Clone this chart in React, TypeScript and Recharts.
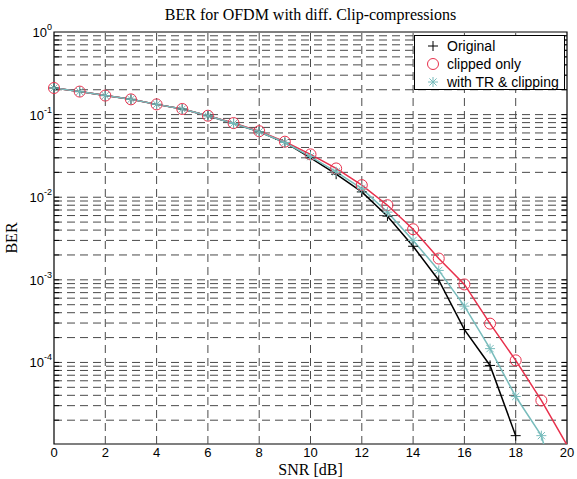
import { Legend, Line, LineChart, ReferenceArea, ReferenceLine, XAxis, YAxis } from "recharts";

// SNR in dB
const snr = [0, 1, 2, 3, 4, 5, 6, 7, 8, 9, 10, 11, 12, 13, 14, 15, 16, 17, 18, 19, 20];
const original = [0.21, 0.19, 0.17, 0.153, 0.133, 0.117, 0.097, 0.078, 0.062, 0.046, 0.03, 0.019, 0.0116, 0.0059, 0.00255, 0.00099, 0.00025, 0.000092, 0.000013];
const clippedOnly = [0.21, 0.19, 0.17, 0.153, 0.133, 0.117, 0.097, 0.079, 0.063, 0.047, 0.033, 0.0223, 0.014, 0.008, 0.0041, 0.00181, 0.00088, 0.000295, 0.000106, 0.0000347, 0.00001];
const withTrClipping = [0.21, 0.19, 0.17, 0.153, 0.133, 0.117, 0.097, 0.078, 0.062, 0.046, 0.031, 0.0203, 0.0127, 0.0066, 0.003, 0.0013, 0.00048, 0.000147, 0.0000387, 0.000013, 0.000001];
const xTicks = [0, 2, 4, 6, 8, 10, 12, 14, 16, 18, 20];
const yTicks = [0.0001, 0.001, 0.01, 0.1, 1];
const decades = [0.00001, 0.0001, 0.001, 0.01, 0.1];
const minorFactors = [1, 2, 3, 4, 5, 6, 7, 8, 9];
const yMin = 0.0000103;
const yMax = 1;

const BLACK = "#000000";
const RED = "#e8304c";
const TEAL = "#78bcbc";
const GRID = "#4a4a4a";

const data = snr.map((x, i) => ({
  snr: x,
  original: original[i] ?? null,
  clipped: clippedOnly[i] ?? null,
  tr: withTrClipping[i] ?? null
}));

const yGrid = decades
  .flatMap((d) => minorFactors.map((f) => +(d * f).toPrecision(3)))
  .filter((v) => v > yMin && v < yMax);
const xGrid = xTicks.filter((x) => x > 0 && x < 20);

function hidden(props: any) {
  return props.cx == null || props.cy == null || props.value == null || props.value < yMin;
}

function PlusDot(props: any) {
  const { cx, cy, index } = props;
  if (hidden(props)) return <g key={`p${index}`} />;
  return (
    <g key={`p${index}`} stroke={BLACK} strokeWidth={1}>
      <line x1={cx - 5} y1={cy} x2={cx + 5} y2={cy} />
      <line x1={cx} y1={cy - 5} x2={cx} y2={cy + 5} />
    </g>
  );
}

function CircleDot(props: any) {
  const { cx, cy, index } = props;
  if (hidden(props)) return <g key={`c${index}`} />;
  return <circle key={`c${index}`} cx={cx} cy={cy} r={5.5} fill="none" stroke={RED} strokeWidth={1} />;
}

function StarDot(props: any) {
  const { cx, cy, index } = props;
  if (hidden(props)) return <g key={`s${index}`} />;
  return (
    <g key={`s${index}`} stroke={TEAL} strokeWidth={1}>
      <line x1={cx - 5} y1={cy} x2={cx + 5} y2={cy} />
      <line x1={cx} y1={cy - 5} x2={cx} y2={cy + 5} />
      <line x1={cx - 3.6} y1={cy - 3.6} x2={cx + 3.6} y2={cy + 3.6} />
      <line x1={cx - 3.6} y1={cy + 3.6} x2={cx + 3.6} y2={cy - 3.6} />
    </g>
  );
}

function PowerTick({ x, y, payload }: any) {
  const exp = Math.round(Math.log10(payload.value));
  return (
    <text x={x} y={y} textAnchor="end" fontFamily="'Liberation Sans', Arial, sans-serif" fontSize={13} fill="#000">
      <tspan dy={5}>10</tspan>
      <tspan dy={-7} fontSize={9}>{exp}</tspan>
    </text>
  );
}

const legendItems = [
  { name: "Original", marker: "plus", color: BLACK },
  { name: "clipped only", marker: "circle", color: RED },
  { name: "with TR & clipping", marker: "star", color: TEAL }
];

function LegendMarker({ marker, color }: { marker: string; color: string }) {
  return (
    <svg width={14} height={14} style={{ display: "block" }}>
      {marker === "circle" ? (
        <circle cx={7} cy={7} r={5.5} fill="none" stroke={color} />
      ) : (
        <g stroke={color}>
          <line x1={2} y1={7} x2={12} y2={7} />
          <line x1={7} y1={2} x2={7} y2={12} />
          {marker === "star" && <line x1={3.4} y1={3.4} x2={10.6} y2={10.6} />}
          {marker === "star" && <line x1={3.4} y1={10.6} x2={10.6} y2={3.4} />}
        </g>
      )}
    </svg>
  );
}

function LegendBox() {
  return (
    <div
      style={{
        border: "1px solid #000",
        background: "#fff",
        boxSizing: "border-box",
        width: 151,
        height: 55,
        paddingTop: 1,
        fontFamily: "'Liberation Sans', Arial, sans-serif",
        fontSize: 14
      }}
    >
      {legendItems.map((item) => (
        <div key={item.name} style={{ display: "flex", alignItems: "center", height: 18, whiteSpace: "nowrap" }}>
          <div style={{ width: 11 }} />
          <LegendMarker marker={item.marker} color={item.color} />
          <div style={{ width: 7 }} />
          <span>{item.name}</span>
        </div>
      ))}
    </div>
  );
}

export default function App() {
  const serif = "'Liberation Serif', 'Times New Roman', serif";
  return (
    <div style={{ position: "absolute", left: 0, top: 0, width: 577, height: 479, background: "#fff" }}>
      <div
        style={{
          position: "absolute",
          left: 54,
          width: 513,
          top: 5,
          textAlign: "center",
          fontFamily: serif,
          fontSize: 16,
          lineHeight: "20px"
        }}
      >
        BER for OFDM with diff. Clip-compressions
      </div>
      <div
        style={{
          position: "absolute",
          left: 54,
          width: 513,
          top: 462,
          textAlign: "center",
          fontFamily: serif,
          fontSize: 16,
          lineHeight: "15px"
        }}
      >
        SNR [dB]
      </div>
      <div
        style={{
          position: "absolute",
          left: 12,
          top: 238,
          transform: "translate(-50%, -50%) rotate(-90deg)",
          fontFamily: serif,
          fontSize: 16,
          lineHeight: "20px"
        }}
      >
        BER
      </div>
      <LineChart width={577} height={479} data={data} margin={{ top: 32, right: 10, bottom: 15, left: 14 }}>
        <XAxis
          dataKey="snr"
          type="number"
          domain={[0, 20]}
          ticks={xTicks}
          interval={0}
          tickLine={false}
          axisLine={false}
          tickSize={0}
          tickMargin={4}
          height={20}
          tick={{ fontFamily: "'Liberation Sans', Arial, sans-serif", fontSize: 13, fill: "#000" }}
        />
        <YAxis
          type="number"
          scale="log"
          domain={[yMin, yMax]}
          allowDataOverflow
          ticks={yTicks}
          interval={0}
          tickLine={false}
          axisLine={false}
          tickSize={0}
          tickMargin={2}
          width={40}
          tick={<PowerTick />}
        />
        {xGrid.map((x) => (
          <ReferenceLine key={`gx${x}`} x={x} stroke={GRID} strokeDasharray="8 5" />
        ))}
        {yGrid.map((y) => (
          <ReferenceLine key={`gy${y}`} y={y} stroke={GRID} strokeDasharray="8 5" />
        ))}
        {yGrid.map((y) => (
          <ReferenceLine key={`tl${y}`} segment={[{ x: 0, y }, { x: 0.2, y }]} stroke={BLACK} />
        ))}
        {yGrid.map((y) => (
          <ReferenceLine key={`tr${y}`} segment={[{ x: 19.8, y }, { x: 20, y }]} stroke={BLACK} />
        ))}
        <Line
          dataKey="original"
          type="linear"
          stroke={BLACK}
          strokeWidth={1.5}
          dot={PlusDot}
          activeDot={false}
          isAnimationActive={false}
          connectNulls={false}
        />
        <Line
          dataKey="clipped"
          type="linear"
          stroke={RED}
          strokeWidth={1.5}
          dot={CircleDot}
          activeDot={false}
          isAnimationActive={false}
        />
        <Line
          dataKey="tr"
          type="linear"
          stroke={TEAL}
          strokeWidth={1.5}
          dot={StarDot}
          activeDot={false}
          isAnimationActive={false}
        />
        <ReferenceArea x1={0} x2={20} y1={yMin} y2={yMax} fill="none" stroke={BLACK} strokeWidth={1.2} ifOverflow="visible" />
        <Legend
          layout="vertical"
          align="center"
          verticalAlign="middle"
          content={() => <LegendBox />}
          wrapperStyle={{ left: 414, top: 35, width: 151, right: "auto", bottom: "auto" }}
        />
      </LineChart>
    </div>
  );
}
